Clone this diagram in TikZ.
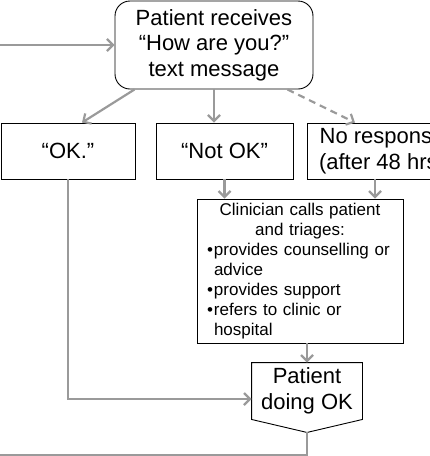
\documentclass[tikz,border=0pt]{standalone}
\usepackage{fontspec}
\setmainfont{Liberation Sans}
\usepackage{tikz}
\usetikzlibrary{arrows.meta}
\usetikzlibrary{positioning}
\definecolor{linkgray}{RGB}{154,154,154}

\begin{document}
\begin{tikzpicture}[x=1pt,y=-1pt,
  box/.style={draw,line width=.9pt,inner sep=0pt,align=center,font=\fontsize{22}{25.5}\selectfont},
  link/.style={draw=linkgray,line width=2.2pt},
  flow/.style={link,-{Straight Barb[length=6pt,width=12pt]}}]
\useasboundingbox (0,0) rectangle (430,456);
\clip (0,0) rectangle (430,456);
\node[box,rounded corners=15pt,minimum width=198pt,minimum height=88pt] (msg) at (214,45) {Patient receives\\“How are you?”\\text message};
\node[box,minimum width=134pt,minimum height=56pt] (ok) at (68,151) {“OK.”};
\node[box,minimum width=137pt,minimum height=56pt] (notok) at (224.5,151) {“Not OK”};
\node[box,minimum width=150pt,minimum height=56pt] (noresp) at (382,151) {No response\\(after 48 hrs)};
\node[draw,line width=.9pt,inner xsep=10pt,inner ysep=2pt,text width=186pt,minimum height=144pt,font=\fontsize{17}{20}\selectfont] (call) at (300,271)
 {\parindent=0pt{\centering Clinician calls patient\\and triages:\par}\raggedright
  \hangindent=7pt\makebox[7pt][l]{\textbullet}provides counselling or advice\par
  \hangindent=7pt\makebox[7pt][l]{\textbullet}provides support\par
  \hangindent=7pt\makebox[7pt][l]{\textbullet}refers to clinic or hospital\par};
\node[box,draw=none,minimum width=110pt,minimum height=56pt] (pdo) at (307,391) {Patient\\doing OK};
\coordinate (pdotip) at ([yshift=-13pt]pdo.south);
\draw[line width=.9pt] (pdo.north west) -- (pdo.north east) -- (pdo.south east) -- (pdotip) -- (pdo.south west) -- cycle;
\coordinate (loopin) at (0,45);
\coordinate (loopout) at (0,455);
\draw[flow] (loopin) -- (msg.west);
\draw[flow] ([xshift=20pt]msg.south west) -- ([xshift=14pt]ok.north);
\draw[flow] (msg.south) -- (msg.south |- notok.north);
\draw[flow,dash pattern=on 7pt off 5pt] ([xshift=-26pt]msg.south east) -- ([xshift=-27pt]noresp.north);
\draw[flow] (notok.south) -- (notok.south |- call.north);
\draw[flow] ([xshift=-7pt]noresp.south) -- ([xshift=-7pt]noresp.south |- call.north);
\draw[flow] (pdo.north |- call.south) -- (pdo.north);
\draw[flow] (ok.south) |- ([yshift=-8pt]pdo.west);
\draw[link] (pdotip) |- (loopout);
\end{tikzpicture}
\end{document}
